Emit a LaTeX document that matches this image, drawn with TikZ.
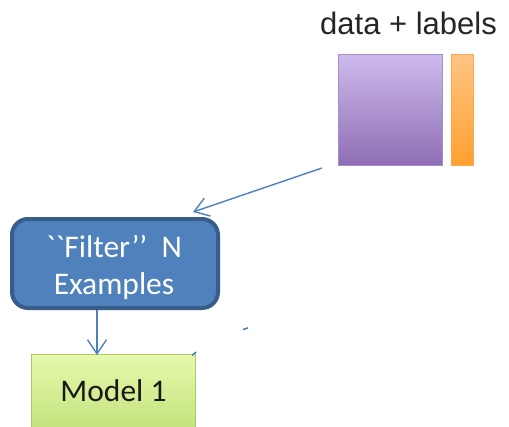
\documentclass[tikz,border=0pt]{standalone}
\usepackage{fontspec}
\usetikzlibrary{arrows.meta,calc}
\newfontfamily\arialf{Liberation Sans}
\newfontfamily\calf{Carlito}
\definecolor{accblue}{HTML}{4F81BD}
\definecolor{accdark}{HTML}{385D8A}
\definecolor{purtop}{HTML}{CEBBEC}
\definecolor{purbot}{HTML}{8E6DB5}
\definecolor{purline}{HTML}{A690CC}
\definecolor{ortop}{HTML}{FFC585}
\definecolor{orbot}{HTML}{FFA030}
\definecolor{ordraw}{HTML}{F7A848}
\definecolor{grtop}{HTML}{E6F9AC}
\definecolor{grbot}{HTML}{B4D868}
\definecolor{grline}{HTML}{A9CC66}
\tikzset{
  conn/.style={draw=accblue, line width=1.4pt, -{Straight Barb[length=14pt,width=19pt,line width=1.4pt]}},
  tick/.style={draw=accblue, line width=1.6pt},
  filterbox/.style={draw=accdark, line width=4pt, fill=accblue, rounded corners=16pt,
    minimum width=206pt, minimum height=89pt, inner sep=0pt, align=center,
    text=white, font=\calf\fontsize{31}{37}\selectfont},
  modelbox/.style={draw=grline, line width=0.8pt, top color=grtop, bottom color=grbot,
    minimum width=164pt, minimum height=110pt, inner sep=0pt},
  databox/.style={draw=purline, line width=0.8pt, top color=purtop, bottom color=purbot,
    minimum width=104pt, minimum height=111pt, inner sep=0pt},
  labelbox/.style={draw=ordraw, line width=0.8pt, top color=ortop, bottom color=orbot,
    minimum width=22pt, minimum height=111pt, inner sep=0pt},
}
\begin{document}
\begin{tikzpicture}[x=1pt,y=-1pt]
\clip (0,0) rectangle (509,426);
\fill[white] (0,0) rectangle (509,426);
% title
\node[anchor=base, inner sep=0pt, font=\arialf\fontsize{31}{36}\selectfont, text=black!85] (title) at (408.5,34) {data + labels};
% data and labels
\node[databox] (data) at (390,109.5) {};
\node[labelbox] (labels) at (462,109.5) {};
% filter box
\node[filterbox] (filter) at (115,263.5) {};
\node[anchor=base, inner sep=0pt, text=white, font=\calf\fontsize{31.5}{37}\selectfont] (fline1) at (114,257) {\symbol{96}\symbol{96}Filter’’\ \ N};
\node[anchor=base, inner sep=0pt, text=white, font=\calf\fontsize{31.5}{37}\selectfont] (fline2) at (114,294) {Examples};
% model box
\node[modelbox, anchor=north] (model) at (113,354) {};
\node[anchor=base, inner sep=0pt, font=\calf\fontsize{31.5}{36}\selectfont, text=black!90] (mtext) at (113.5,401) {Model 1};
% connectors
\coordinate (a1s) at (322,168);
\coordinate (a1e) at (193,212);
\draw[conn] (a1s) -- (a1e);
\coordinate (a2s) at ($(filter.south)+(-18,0)$);
\coordinate (a2e) at (97,355);
\draw[conn] (a2s) -- (a2e);
% small cut-off arrow ends
\coordinate (t1s) at (243,329.5);
\coordinate (t1e) at (248,328);
\draw[tick] (t1s) -- (t1e);
\coordinate (t2s) at (192,355.5);
\coordinate (t2e) at (196,352);
\draw[tick] (t2s) -- (t2e);
\end{tikzpicture}
\end{document}
